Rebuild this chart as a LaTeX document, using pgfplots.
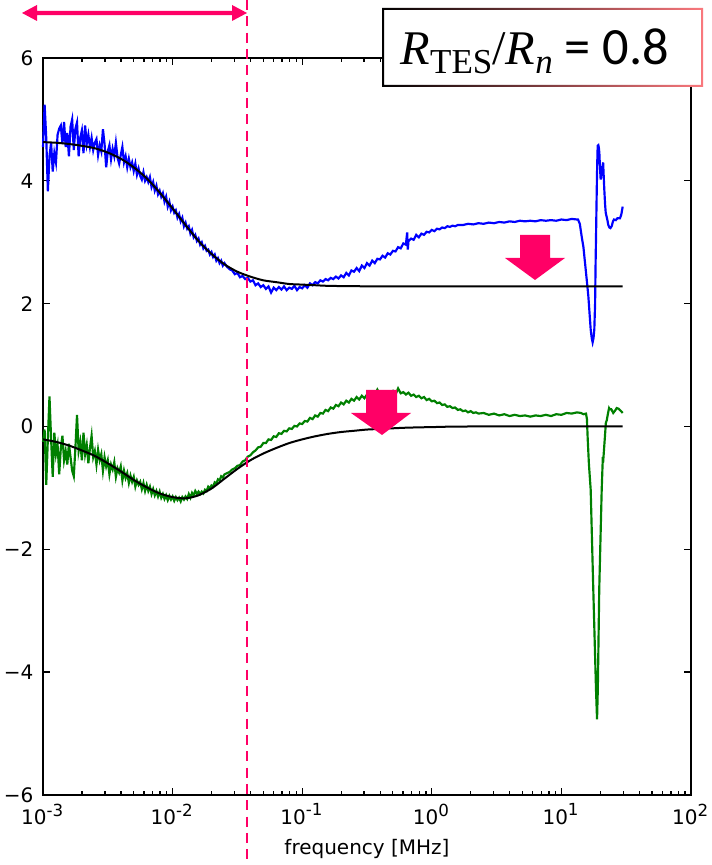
\documentclass[border=0pt]{standalone}
\usepackage{pgfplots}
\pgfplotsset{compat=1.18}
\usepackage{pgfplotstable}
\usepackage{fontspec}
\setmainfont{DejaVu Sans}
\newfontfamily\lserif{Liberation Serif}
\newfontfamily\carlito{Carlito}
\definecolor{hot}{RGB}{255,0,102}
\definecolor{mplgreen}{RGB}{0,128,0}
\definecolor{brdblue}{RGB}{110,110,225}
\definecolor{brdpink}{RGB}{250,120,125}

% x = log10(frequency / MHz)
\pgfplotstableread{
u v
-3.000 4.55
-2.9875 5.24
-2.975 4.70
-2.9625 3.83
-2.95 4.40
-2.9375 4.62
-2.925 4.15
-2.9125 4.45
-2.90 4.30
-2.8875 4.75
-2.875 4.85
-2.8625 4.90
-2.85 4.60
-2.8375 4.96
-2.825 4.55
-2.8125 4.78
-2.80 4.40
-2.7875 4.88
-2.775 5.00
-2.7625 4.50
-2.75 4.85
-2.7375 4.95
-2.725 4.40
-2.7125 4.70
-2.70 4.82
-2.6875 4.45
-2.675 4.90
-2.6625 4.60
-2.65 4.75
-2.6375 4.55
-2.625 4.70
-2.6125 4.50
-2.60 4.62
-2.5875 4.68
-2.575 4.42
-2.5625 4.58
-2.55 4.48
-2.5375 4.84
-2.525 4.60
-2.5125 4.22
-2.50 4.48
-2.4875 4.58
-2.475 4.35
-2.4625 4.52
-2.45 4.40
-2.4375 4.62
-2.425 4.38
-2.4125 4.28
-2.40 4.42
-2.3875 4.55
-2.375 4.30
-2.3625 4.40
-2.35 4.22
-2.3375 4.36
-2.325 4.22
-2.3125 4.30
-2.30 4.16
-2.2875 4.28
-2.275 4.10
-2.2625 4.20
-2.25 4.08
-2.2375 4.02
-2.225 4.14
-2.2125 4.00
-2.20 4.06
-2.1875 3.98
-2.175 4.06
-2.1625 3.90
-2.15 3.98
-2.1375 3.84
-2.125 3.92
-2.1125 3.78
-2.10 3.84
-2.0875 3.74
-2.075 3.80
-2.0625 3.66
-2.05 3.74
-2.0375 3.58
-2.025 3.66
-2.0125 3.52
-2.00 3.58
-1.9875 3.48
-1.975 3.52
-1.9625 3.40
-1.95 3.46
-1.9375 3.34
-1.925 3.40
-1.9125 3.26
-1.90 3.32
-1.8875 3.22
-1.875 3.26
-1.8625 3.14
-1.85 3.20
-1.8375 3.08
-1.825 3.12
-1.8125 3.02
-1.80 3.06
-1.7875 2.96
-1.775 3.00
-1.7625 2.90
-1.75 2.94
-1.7375 2.86
-1.725 2.88
-1.7125 2.80
-1.70 2.84
-1.6875 2.76
-1.675 2.80
-1.6625 2.70
-1.65 2.74
-1.6375 2.66
-1.625 2.70
-1.6125 2.62
-1.60 2.66
-1.58 2.60
-1.56 2.56
-1.54 2.54
-1.52 2.48
-1.50 2.50
-1.48 2.43
-1.46 2.45
-1.44 2.40
-1.42 2.42
-1.40 2.36
-1.38 2.38
-1.36 2.30
-1.34 2.33
-1.32 2.27
-1.30 2.30
-1.28 2.24
-1.26 2.28
-1.24 2.18
-1.22 2.26
-1.20 2.22
-1.18 2.27
-1.16 2.23
-1.14 2.28
-1.12 2.22
-1.10 2.26
-1.08 2.24
-1.06 2.29
-1.04 2.22
-1.02 2.27
-1.00 2.25
-0.98 2.30
-0.96 2.26
-0.94 2.33
-0.92 2.30
-0.90 2.35
-0.88 2.33
-0.86 2.38
-0.84 2.36
-0.82 2.40
-0.80 2.38
-0.78 2.42
-0.76 2.40
-0.74 2.44
-0.72 2.41
-0.70 2.46
-0.68 2.43
-0.66 2.50
-0.64 2.46
-0.62 2.54
-0.60 2.52
-0.58 2.58
-0.56 2.53
-0.54 2.62
-0.52 2.58
-0.50 2.66
-0.48 2.62
-0.46 2.70
-0.44 2.66
-0.42 2.73
-0.40 2.72
-0.38 2.78
-0.36 2.75
-0.34 2.82
-0.32 2.80
-0.30 2.86
-0.28 2.85
-0.26 2.92
-0.24 2.90
-0.22 2.98
-0.20 2.96
-0.19 3.16
-0.185 2.88
-0.18 3.02
-0.16 3.06
-0.14 3.04
-0.12 3.12
-0.10 3.08
-0.08 3.14
-0.06 3.12
-0.04 3.17
-0.02 3.16
0.00 3.20
0.02 3.18
0.04 3.22
0.06 3.21
0.08 3.24
0.10 3.23
0.12 3.26
0.14 3.25
0.16 3.27
0.18 3.26
0.20 3.28
0.24 3.28
0.28 3.30
0.32 3.29
0.36 3.31
0.40 3.30
0.44 3.32
0.48 3.31
0.52 3.33
0.56 3.32
0.60 3.34
0.64 3.33
0.68 3.35
0.72 3.34
0.76 3.35
0.80 3.34
0.84 3.36
0.88 3.35
0.92 3.36
0.96 3.35
1.00 3.37
1.04 3.36
1.08 3.38
1.12 3.37
1.128 3.37
1.142 3.30
1.156 3.10
1.17 2.92
1.182 2.67
1.195 2.40
1.208 2.12
1.218 1.82
1.226 1.58
1.234 1.44
1.241 1.37
1.248 1.44
1.254 1.58
1.26 2.0
1.264 2.67
1.268 3.2
1.272 3.75
1.276 4.25
1.28 4.57
1.285 4.58
1.289 4.54
1.293 4.45
1.298 4.20
1.303 4.02
1.308 4.10
1.313 4.22
1.318 4.24
1.322 4.30
1.326 4.10
1.331 3.86
1.337 3.62
1.342 3.48
1.354 3.37
1.362 3.28
1.37 3.24
1.378 3.23
1.388 3.26
1.398 3.34
1.406 3.37
1.42 3.36
1.432 3.39
1.452 3.39
1.462 3.45
1.473 3.58
}\bluedata

\pgfplotstableread{
u v
-3.000 -0.25
-2.9875 -0.05
-2.975 -0.95
-2.9625 -0.20
-2.95 0.49
-2.9375 -0.20
-2.925 -0.82
-2.9125 -0.10
-2.90 -0.45
-2.8875 -0.30
-2.875 -0.78
-2.8625 -0.35
-2.85 -0.15
-2.8375 -0.55
-2.825 -0.40
-2.8125 -0.62
-2.80 -0.28
-2.7875 -0.50
-2.775 -0.72
-2.7625 -0.81
-2.75 -0.35
-2.7375 0.19
-2.725 -0.40
-2.7125 -0.25
-2.70 -0.55
-2.6875 -0.10
-2.675 -0.45
-2.6625 -0.30
-2.65 -0.60
-2.6375 -0.35
-2.625 -0.15
-2.6125 -0.50
-2.60 -0.40
-2.5875 -0.62
-2.575 -0.38
-2.5625 -0.55
-2.55 -0.45
-2.5375 -0.72
-2.525 -0.50
-2.5125 -0.65
-2.50 -0.55
-2.4875 -0.78
-2.475 -0.62
-2.4625 -0.70
-2.45 -0.58
-2.4375 -0.82
-2.425 -0.68
-2.4125 -0.75
-2.40 -0.65
-2.3875 -0.88
-2.375 -0.72
-2.3625 -0.84
-2.35 -0.76
-2.3375 -0.92
-2.325 -0.80
-2.3125 -0.90
-2.30 -0.82
-2.2875 -0.98
-2.275 -0.88
-2.2625 -0.95
-2.25 -0.90
-2.2375 -1.02
-2.225 -0.92
-2.2125 -1.05
-2.20 -0.95
-2.1875 -1.05
-2.175 -0.98
-2.1625 -1.10
-2.15 -1.02
-2.1375 -1.12
-2.125 -1.05
-2.1125 -1.14
-2.10 -1.06
-2.0875 -1.16
-2.075 -1.10
-2.0625 -1.18
-2.05 -1.12
-2.0375 -1.20
-2.025 -1.13
-2.0125 -1.19
-2.00 -1.14
-1.9875 -1.21
-1.975 -1.15
-1.9625 -1.20
-1.95 -1.16
-1.9375 -1.22
-1.925 -1.15
-1.9125 -1.19
-1.90 -1.14
-1.8875 -1.18
-1.875 -1.10
-1.8625 -1.16
-1.85 -1.08
-1.8375 -1.12
-1.825 -1.05
-1.8125 -1.10
-1.80 -1.06
-1.7875 -1.10
-1.775 -1.06
-1.7625 -1.09
-1.75 -1.03
-1.7375 -1.05
-1.725 -0.98
-1.7125 -1.01
-1.70 -0.96
-1.6875 -0.98
-1.675 -0.91
-1.6625 -0.93
-1.65 -0.86
-1.6375 -0.88
-1.625 -0.81
-1.6125 -0.83
-1.60 -0.78
-1.58 -0.76
-1.56 -0.74
-1.54 -0.70
-1.52 -0.68
-1.50 -0.64
-1.48 -0.63
-1.46 -0.57
-1.44 -0.55
-1.42 -0.49
-1.40 -0.47
-1.38 -0.42
-1.36 -0.39
-1.34 -0.34
-1.32 -0.33
-1.30 -0.27
-1.28 -0.27
-1.26 -0.21
-1.24 -0.22
-1.22 -0.16
-1.20 -0.17
-1.18 -0.11
-1.16 -0.12
-1.14 -0.07
-1.12 -0.08
-1.10 -0.03
-1.08 -0.04
-1.06 0.01
-1.04 0.00
-1.02 0.05
-1.00 0.04
-0.98 0.09
-0.96 0.08
-0.94 0.14
-0.92 0.12
-0.90 0.18
-0.88 0.16
-0.86 0.22
-0.84 0.21
-0.82 0.27
-0.80 0.25
-0.78 0.31
-0.76 0.29
-0.74 0.35
-0.72 0.33
-0.70 0.39
-0.68 0.36
-0.66 0.42
-0.64 0.39
-0.62 0.45
-0.60 0.42
-0.58 0.48
-0.56 0.44
-0.54 0.50
-0.52 0.46
-0.50 0.52
-0.48 0.49
-0.46 0.54
-0.44 0.51
-0.42 0.60
-0.40 0.52
-0.38 0.55
-0.36 0.53
-0.34 0.57
-0.32 0.54
-0.30 0.58
-0.28 0.52
-0.26 0.62
-0.24 0.54
-0.22 0.56
-0.20 0.52
-0.18 0.55
-0.16 0.50
-0.14 0.52
-0.12 0.48
-0.10 0.50
-0.08 0.46
-0.06 0.48
-0.04 0.43
-0.02 0.45
0.00 0.41
0.02 0.42
0.04 0.38
0.06 0.39
0.08 0.35
0.10 0.36
0.12 0.32
0.14 0.33
0.16 0.30
0.18 0.31
0.20 0.27
0.22 0.28
0.24 0.25
0.26 0.26
0.28 0.23
0.30 0.25
0.32 0.22
0.34 0.23
0.36 0.21
0.40 0.22
0.44 0.19
0.48 0.21
0.52 0.18
0.56 0.20
0.60 0.17
0.64 0.19
0.68 0.17
0.72 0.18
0.76 0.16
0.80 0.18
0.84 0.17
0.88 0.19
0.92 0.17
0.96 0.20
1.00 0.19
1.04 0.22
1.08 0.21
1.12 0.23
1.15 0.22
1.17 0.20
1.19 0.21
1.197 0.12
1.203 -0.20
1.212 -0.60
1.226 -1.03
1.246 -2.65
1.267 -4.28
1.275 -4.77
1.281 -4.28
1.292 -2.65
1.311 -1.03
1.319 -0.54
1.323 -0.55
1.336 -0.16
1.343 0.06
1.35 0.10
1.36 0.22
1.368 0.30
1.374 0.28
1.385 0.28
1.40 0.22
1.415 0.26
1.427 0.30
1.44 0.29
1.45 0.27
1.46 0.25
1.473 0.22
}\greendata

\pgfplotstableread{
u v
-3 4.63
-2.9 4.62
-2.8 4.60
-2.7 4.57
-2.6 4.53
-2.5 4.46
-2.4 4.36
-2.3 4.22
-2.2 4.04
-2.1 3.81
-2.0 3.55
-1.9 3.28
-1.8 3.02
-1.7 2.81
-1.6 2.64
-1.5 2.52
-1.4 2.44
-1.3 2.38
-1.2 2.35
-1.1 2.32
-1.0 2.31
-0.9 2.30
-0.8 2.29
-0.6 2.284
-0.3 2.281
0 2.28
1.473 2.28
}\bluefit

\pgfplotstableread{
u v
-3 -0.21
-2.9 -0.25
-2.8 -0.31
-2.7 -0.39
-2.6 -0.48
-2.5 -0.60
-2.4 -0.73
-2.3 -0.87
-2.2 -0.99
-2.1 -1.09
-2.0 -1.15
-1.9 -1.17
-1.8 -1.12
-1.7 -1.01
-1.6 -0.85
-1.5 -0.69
-1.4 -0.55
-1.3 -0.44
-1.2 -0.35
-1.1 -0.27
-1.0 -0.21
-0.9 -0.16
-0.8 -0.12
-0.7 -0.09
-0.6 -0.07
-0.5 -0.05
-0.4 -0.04
-0.2 -0.02
0 -0.01
0.3 0
1.473 0
}\greenfit

\begin{document}
\begin{tikzpicture}
\begin{axis}[
  at={(0,0)}, anchor=south west,
  scale only axis, width=194.4pt, height=221.1pt,
  xmin=-3, xmax=2, ymin=-6, ymax=6,
  xtick={-3,-2,-1,0,1,2},
  xticklabels={10\textsuperscript{-3},10\textsuperscript{-2},10\textsuperscript{-1},10\textsuperscript{0},10\textsuperscript{1},10\textsuperscript{2}},
  minor xtick={-2.69897,-2.52288,-2.39794,-2.30103,-2.22185,-2.15490,-2.09691,-2.04576,
               -1.69897,-1.52288,-1.39794,-1.30103,-1.22185,-1.15490,-1.09691,-1.04576,
               -0.69897,-0.52288,-0.39794,-0.30103,-0.22185,-0.15490,-0.09691,-0.04576,
               0.30103,0.47712,0.60206,0.69897,0.77815,0.84510,0.90309,0.95424,
               1.30103,1.47712,1.60206,1.69897,1.77815,1.84510,1.90309,1.95424},
  ytick={-6,-4,-2,0,2,4,6},
  yticklabels={−6,−4,−2,0,2,4,6},
  tick align=inside,
  major tick length=2.1pt, minor tick length=1.2pt,
  every tick/.style={black, line width=0.4pt},
  axis line style={line width=0.5pt},
  ticklabel style={font=\fontsize{6}{7}\selectfont},
  xticklabel style={inner sep=0pt, yshift=-2.4pt},
  yticklabel style={inner sep=0pt, xshift=-2.7pt},
  xlabel={frequency [MHz]},
  xlabel style={font=\fontsize{6}{7}\selectfont, at={(axis description cs:0.5,0)}, anchor=base, yshift=-18pt},
  clip=false,
]
\addplot[blue, line width=0.65pt] table[x=u, y=v] {\bluedata};
\addplot[mplgreen, line width=0.65pt] table[x=u, y=v] {\greendata};
\addplot[black, line width=0.6pt, smooth] table[x=u, y=v] {\bluefit};
\addplot[black, line width=0.6pt, smooth] table[x=u, y=v] {\greenfit};
\end{axis}
\begin{scope}[x=0.3pt, y=-0.3pt, shift={(-12.9pt,238.5pt)}]
  % dashed marker line
  \draw[hot, line width=0.6pt, dash pattern=on 3pt off 1.9pt] (247,0) -- (247,865);
  % double arrow
  \fill[hot] (22,13) -- (37,5) -- (37,10.8) -- (232,10.8) -- (232,5) -- (247,13)
        -- (232,21) -- (232,15.2) -- (37,15.2) -- (37,21) -- cycle;
  % down arrows
  \fill[hot] (520,235) -- (550,235) -- (550,258) -- (565,258) -- (535,280)
        -- (505,258) -- (520,258) -- cycle;
  \fill[hot] (366,390) -- (397,390) -- (397,413) -- (411,413) -- (382,435)
        -- (351,413) -- (366,413) -- cycle;
  % text box
  \fill[white] (383,9) rectangle (702,86);
  \path[left color=black, middle color=brdblue, right color=brdpink, even odd rule]
      (382,8) rectangle (703,87) (384,10) rectangle (701,85);
  \node[anchor=base west, inner sep=0pt] at (400,65)
    {{\lserif\fontsize{14.5}{16}\selectfont\textit{R}\raisebox{-2.5pt}{\fontsize{10.5}{12}\selectfont TES}/\textit{R}\raisebox{-2.5pt}{\fontsize{10.5}{12}\selectfont\textit{n}}}{\carlito\fontsize{15.7}{18}\selectfont\ = 0.8}};
  \pgfresetboundingbox
  \path[use as bounding box] (0,0) rectangle (711,865);
\end{scope}
\end{tikzpicture}
\end{document}
